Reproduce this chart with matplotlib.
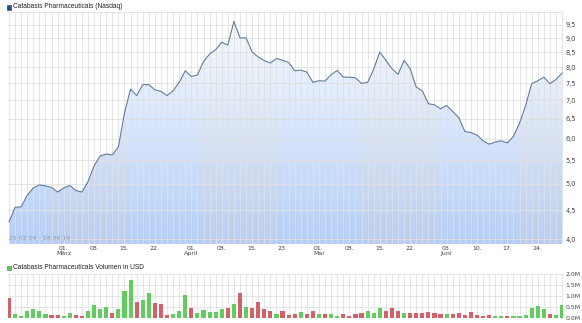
import numpy as np
import matplotlib
matplotlib.use("Agg")
import matplotlib.pyplot as plt
from matplotlib.patches import Polygon, Rectangle
from matplotlib.ticker import FixedLocator, NullFormatter

# Kurs (USD), ein Wert pro Handelstag 15.02.19 - 28.06.19
kurs = [4.29, 4.55, 4.56, 4.78, 4.92, 4.98, 4.96, 4.93, 4.84, 4.92,
        4.97, 4.87, 4.84, 5.05, 5.38, 5.60, 5.64, 5.62, 5.81, 6.66,
        7.33, 7.14, 7.46, 7.46, 7.31, 7.26, 7.14, 7.28, 7.53, 7.89,
        7.71, 7.76, 8.19, 8.44, 8.59, 8.85, 8.75, 9.63, 9.01, 9.01,
        8.51, 8.34, 8.22, 8.14, 8.29, 8.23, 8.16, 7.89, 7.91, 7.85,
        7.53, 7.58, 7.57, 7.77, 7.90, 7.69, 7.69, 7.67, 7.50, 7.53,
        7.94, 8.51, 8.23, 7.96, 7.78, 8.23, 7.96, 7.39, 7.28, 6.91,
        6.88, 6.77, 6.86, 6.70, 6.53, 6.18, 6.15, 6.09, 5.95, 5.87,
        5.92, 5.95, 5.90, 6.06, 6.39, 6.86, 7.49, 7.58, 7.69, 7.49,
        7.62, 7.82]

# Volumen in Mio. USD
volumen = [0.91, 0.19, 0.08, 0.33, 0.41, 0.30, 0.16, 0.12, 0.12, 0.08,
           0.21, 0.13, 0.08, 0.33, 0.59, 0.41, 0.51, 0.24, 0.41, 1.25,
           1.73, 0.73, 0.80, 1.14, 0.66, 0.63, 0.13, 0.16, 0.30, 1.04,
           0.47, 0.23, 0.36, 0.29, 0.29, 0.39, 0.45, 0.63, 1.13, 0.51,
           0.45, 0.75, 0.39, 0.30, 0.16, 0.32, 0.12, 0.20, 0.27, 0.19,
           0.30, 0.16, 0.20, 0.20, 0.09, 0.16, 0.08, 0.16, 0.24, 0.33,
           0.24, 0.45, 0.33, 0.47, 0.30, 0.21, 0.24, 0.24, 0.21, 0.29,
           0.23, 0.16, 0.16, 0.16, 0.24, 0.12, 0.27, 0.12, 0.10, 0.12,
           0.08, 0.08, 0.07, 0.08, 0.08, 0.12, 0.45, 0.53, 0.39, 0.19,
           0.12, 0.59]

# g = gruen, r = rot (je 10 Tage)
vol_farbe = list("rggggggrrg" "grrggggrgg" "grggrrrggg" "rgggggrgrg"
                 "rrrrgrrrgr" "rgrggrrrrg" "ggrrrgrrrr" "rrgrrrrrrr"
                 "ggrggggggr" "gg")

tick_pos = [9, 14, 19, 24, 30, 35, 40, 45, 51, 56, 61, 66, 72, 77, 82, 87]
tick_labels = ["01.\nMärz", "08.", "15.", "22.", "01.\nApril", "08.", "15.", "23.",
               "01.\nMai", "08.", "15.", "22.", "03.\nJuni", "10.", "17.", "24."]
kurs_ticks = [4.0, 4.5, 5.0, 5.5, 6.0, 6.5, 7.0, 7.5, 8.0, 8.5, 9.0, 9.5]
vol_ticks = [0.0, 0.5, 1.0, 1.5, 2.0]

W, H = 582, 323
fig = plt.figure(figsize=(W / 100, H / 100), dpi=100)
plt.rcParams['font.family'] = ['DejaVu Sans']

grid_farbe = '#e0e0e0'
text_farbe = '#444444'
fs = 4.5

def px_axes(left, top, right, bottom):
    return fig.add_axes([left / W, 1 - bottom / H, (right - left) / W, (bottom - top) / H])

x = np.arange(len(kurs))
xlim = (-0.25, len(kurs) - 1 + 0.15)

# ---- Kurschart ----
ax = px_axes(7.5, 12, 563, 244)
ax.set_yscale('log')
ax.set_xlim(*xlim)
ax.set_ylim(3.925, 10.0)

# Verlauf unter der Linie
ylo = ax.get_ylim()[0]
verts = [(x[0], ylo)] + list(zip(x, kurs)) + [(x[-1], ylo)]
clip = Polygon(verts, closed=True, transform=ax.transData)
top_c = np.array([250, 252, 255]) / 255
bot_c = np.array([182, 206, 245]) / 255
t = np.linspace(0, 1, 256)[:, None]
grad = (top_c * (1 - t) + bot_c * t).reshape(256, 1, 3)
im = ax.imshow(grad, extent=[0, 1, 0, 1], transform=ax.transAxes,
               aspect='auto', zorder=0.5, interpolation='bilinear')
im.set_clip_path(clip)

ax.plot(x, kurs, color='#5f7f9f', linewidth=0.8, zorder=3)

ax.set_xticks(tick_pos)
ax.set_xticklabels(tick_labels, fontsize=fs, color=text_farbe, linespacing=1.0)
ax.set_xticks(x, minor=True)
ax.yaxis.set_major_locator(FixedLocator(kurs_ticks))
ax.yaxis.set_minor_locator(FixedLocator([10.0]))
ax.yaxis.set_minor_formatter(NullFormatter())
ax.set_yticklabels([f"{v:.1f}".replace('.', ',') for v in kurs_ticks])
ax.yaxis.tick_right()
ax.tick_params(axis='both', which='both', length=0)
ax.tick_params(axis='y', labelsize=4.8, labelcolor=text_farbe, pad=2)
ax.tick_params(axis='x', pad=1.5)
ax.set_axisbelow(False)
ax.grid(True, which='both', color=grid_farbe, linewidth=0.6, zorder=2)
for s in ax.spines.values():
    s.set_visible(False)
ax.text(0.003, 0.012, "15.02.19 - 28.06.19", transform=ax.transAxes,
        fontsize=fs, color='#8f9bb0', va='bottom', ha='left', zorder=4)

# ---- Volumen ----
av = px_axes(7.5, 274, 563, 318)
av.set_xlim(*xlim)
av.set_ylim(0, 2.0)
farben = ['#63cc5f' if c == 'g' else '#d4606a' for c in vol_farbe]
av.bar(x, volumen, width=0.68, color=farben, zorder=3)
av.set_xticks(x, minor=True)
av.set_xticks([])
av.set_yticks(vol_ticks)
av.set_yticklabels([f"{v:.1f}".replace('.', ',') + "M" for v in vol_ticks])
av.yaxis.tick_right()
av.tick_params(axis='both', which='both', length=0)
av.tick_params(axis='y', labelsize=4.4, labelcolor=text_farbe, pad=2)
av.grid(True, which='both', color=grid_farbe, linewidth=0.6, zorder=1)
av.set_axisbelow(True)
for s in av.spines.values():
    s.set_visible(False)

# ---- Legenden ----
leg_font = ['Liberation Sans', 'DejaVu Sans']
fig.patches.append(Rectangle((6.5 / W, 1 - 9.5 / H), 4.5 / W, 4.5 / H, transform=fig.transFigure,
                             facecolor='#1f4f8f', edgecolor='#15365f', linewidth=0.4))
fig.text(13 / W, 1 - 7 / H, "Catabasis Pharmaceuticals (Nasdaq)", fontsize=4.8,
         family=leg_font, color='#222222', va='center', ha='left')
fig.patches.append(Rectangle((6.5 / W, 1 - 270 / H), 4.5 / W, 4.5 / H, transform=fig.transFigure,
                             facecolor='#63cc5f', edgecolor='#2e7d2e', linewidth=0.4))
fig.text(13 / W, 1 - 267.7 / H, "Catabasis Pharmaceuticals Volumen in USD", fontsize=4.8,
         family=leg_font, color='#222222', va='center', ha='left')

fig.savefig("out.png", dpi=100)
